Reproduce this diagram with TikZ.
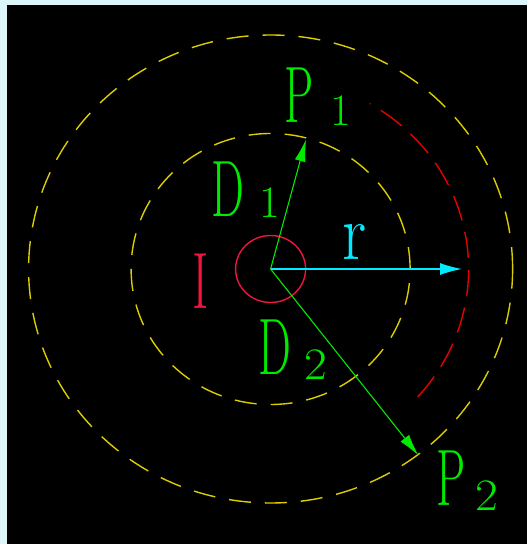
\documentclass[tikz,border=0pt]{standalone}
\usepackage{graphicx}
\usetikzlibrary{arrows.meta}
\definecolor{bord}{RGB}{220,245,248}
\definecolor{cyel}{RGB}{220,205,0}
\definecolor{cred}{RGB}{230,0,0}
\definecolor{cpink}{RGB}{240,20,65}
\definecolor{cgreen}{RGB}{0,235,0}
\definecolor{ccyan}{RGB}{0,235,255}
\newcommand\bigLet[2][0.58]{\scalebox{#1}[1]{\fontsize{80}{80}\selectfont #2}}
\newcommand\subLet[2][1]{\scalebox{#1}[1]{\fontsize{45}{45}\selectfont #2}}
\tikzset{
  ring/.style={cyel, line width=1.4pt, dash pattern=on 22pt off 14pt},
  redarc/.style={cred, line width=1.4pt, dash pattern=on 26pt off 12pt},
  lbl/.style={inner sep=0pt, anchor=base west},
  garrow/.style={cgreen, line width=1.1pt, -{Latex[length=22pt,width=11pt]}},
  carrow/.style={ccyan, line width=1.3pt, -{Latex[length=22pt,width=12pt]}},
}
\begin{document}
\begin{tikzpicture}[x=1pt,y=1pt]
\useasboundingbox (0,0) rectangle (527,544);
\fill[bord] (0,0) rectangle (527,544);
\fill[black] (7,0) rectangle (527,539);
\coordinate (C) at (270.6,275);
\coordinate (T1) at (306,404.5);
\coordinate (T2) at (418.5,88.5);
\coordinate (TR) at (462,275);
% circles
\draw[ring] (C) ellipse[x radius=242, y radius=234];
\draw[ring] (C) ellipse[x radius=139.5, y radius=135.5];
\draw[redarc] (C) ++(-42:198 and 191) arc[start angle=-42, end angle=60, x radius=198, y radius=191];
\draw[cpink, line width=1.4pt] (C) ellipse[x radius=35, y radius=33.5];
% arrows
\draw[garrow] (C) -- (T1);
\draw[garrow] (C) -- (T2);
\draw[carrow] (C) -- (TR);
% labels
\node[lbl, cgreen] (P1) at (284,421) {\bigLet{P}};
\node[lbl, cgreen] (P1s) at (330,418) {\subLet{1}};
\node[lbl, cgreen] (D1) at (211,327) {\bigLet{D}};
\node[lbl, cgreen] (D1s) at (259,326) {\subLet{1}};
\node[lbl, cpink] (I) at (192,235) {\bigLet[0.62]{I}};
\node[lbl, ccyan] (R) at (342,284) {\bigLet[0.85]{r}};
\node[lbl, cgreen] (D2) at (258,169) {\bigLet{D}};
\node[lbl, cgreen] (D2s) at (304,164) {\subLet[1.1]{2}};
\node[lbl, cgreen] (P2) at (436,38) {\bigLet{P}};
\node[lbl, cgreen] (P2s) at (475,33) {\subLet[1.1]{2}};
\end{tikzpicture}
\end{document}
